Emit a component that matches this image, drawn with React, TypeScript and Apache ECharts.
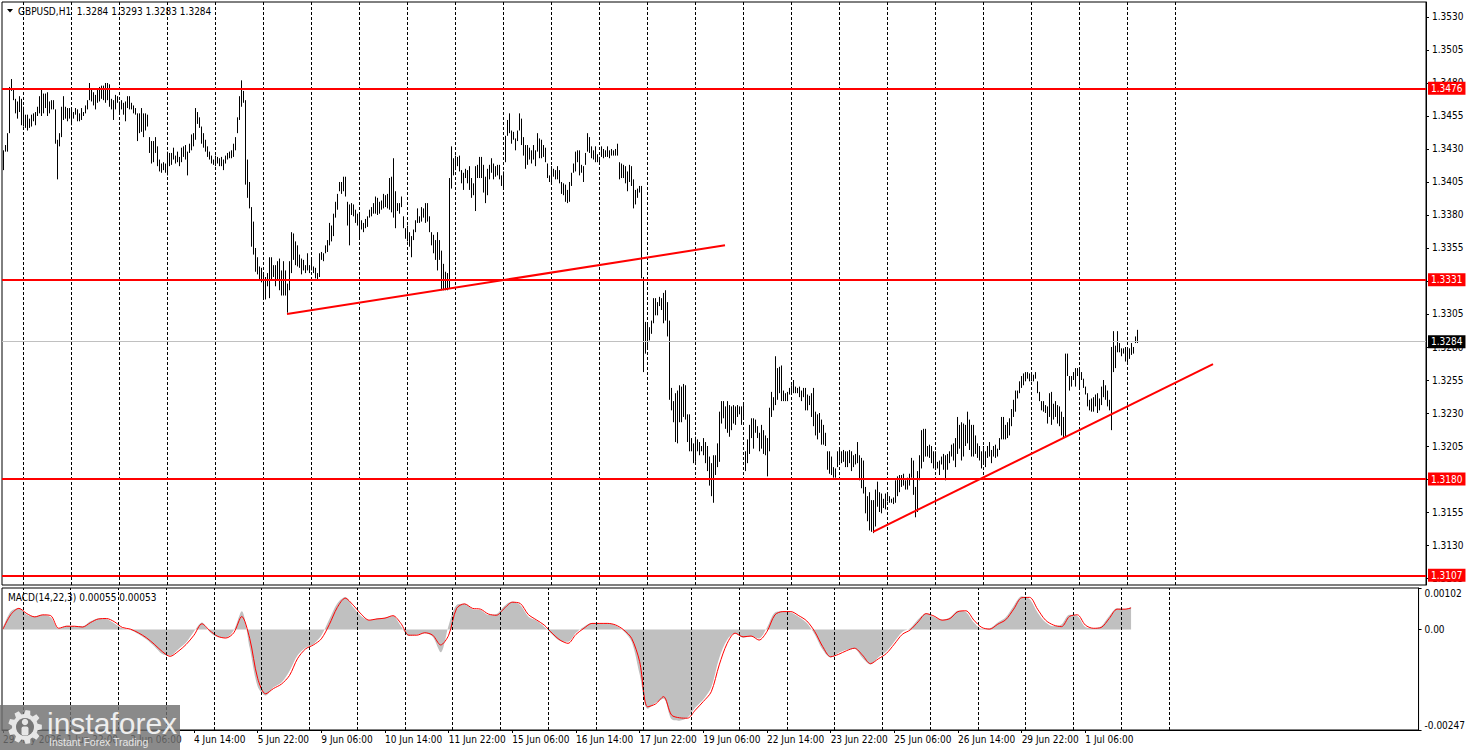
import React, { useEffect, useRef } from "react";
import * as echarts from "echarts";

// ---------- DATA ----------
// H1 bars, GBPUSD. High / low in pips above 1.3000 (value = 1.3000 + pips * 0.0001)
const HIGH_PIPS = [
  429,433,442,477,483,476,468,466,470,468,
  462,456,456,453,456,457,458,462,470,476,
  472,472,473,466,467,467,460,437,442,462,
  470,462,461,461,460,458,461,460,457,461,
  458,463,467,480,476,473,471,475,477,478,
  478,480,480,479,468,467,471,470,466,467,
  465,466,470,470,465,463,461,457,457,461,
  457,457,456,439,436,436,439,432,422,419,
  420,419,428,427,427,431,425,428,424,431,
  432,433,428,434,441,442,461,458,454,447,
  442,437,432,428,425,422,425,424,423,424,
  422,425,427,428,429,434,439,454,470,482,
  474,467,422,405,386,375,355,348,341,340,
  336,333,336,348,348,342,342,345,347,338,
  345,338,328,345,367,366,360,357,350,347,
  346,342,351,342,346,341,340,336,351,352,
  351,357,361,374,372,381,390,396,405,405,
  409,409,390,388,389,388,384,381,380,376,
  374,377,379,384,386,389,394,393,390,391,
  396,395,396,408,409,423,398,389,389,394,
  379,370,372,367,364,369,376,385,379,386,
  385,389,389,379,367,365,361,367,361,353,
  343,337,336,408,432,423,425,424,425,414,
  412,415,414,417,408,404,417,418,424,424,
  418,409,415,418,423,419,417,418,418,410,
  413,440,452,457,444,443,438,444,457,453,
  439,433,433,431,429,433,429,442,438,437,
  433,431,419,410,417,415,414,417,414,405,
  404,403,399,405,412,419,428,429,429,418,
  417,427,442,439,432,429,432,426,424,432,
  430,429,432,429,430,429,430,434,420,419,
  418,417,413,418,417,407,399,400,402,402,
  333,299,298,295,300,317,317,314,318,317,
  321,323,314,300,249,239,245,247,251,250,
  252,251,229,229,211,207,212,210,208,205,
  211,208,205,197,192,198,198,207,231,239,
  239,235,239,236,235,236,235,236,235,235,
  236,201,210,221,226,226,225,220,215,221,
  217,213,211,234,246,242,273,264,265,266,
  247,245,246,249,251,255,250,249,250,247,
  249,249,244,243,245,249,231,229,230,225,
  221,215,201,201,197,189,188,201,202,201,
  202,201,201,202,201,198,199,208,198,196,
  194,174,167,170,164,164,172,178,170,169,
  165,169,170,167,165,166,179,182,183,183,
  184,179,181,184,196,194,174,186,198,217,
  218,218,205,206,205,201,201,193,194,197,
  199,198,199,201,206,207,211,227,221,223,
  222,221,231,225,221,221,213,207,205,201,
  205,201,205,208,202,205,206,203,211,227,
  227,221,223,226,233,240,247,247,254,258,
  260,261,261,260,261,259,261,254,246,239,
  239,236,235,245,246,237,239,236,235,231,
  227,275,275,258,258,261,264,264,263,261,
  256,250,245,240,241,242,244,245,241,250,
  255,251,247,240,280,292,281,292,283,279,
  279,280,279,279,283,280,288,293,
];
const LOW_PIPS = [
  414,428,428,442,474,467,457,453,458,448,
  447,446,444,446,447,451,448,455,457,455,
  457,461,455,457,460,460,434,407,432,439,
  452,453,451,453,448,453,456,451,451,452,
  455,457,460,467,466,463,460,465,466,468,
  467,465,467,462,460,452,460,465,457,460,
  456,451,461,460,460,457,456,436,442,443,
  439,444,447,427,419,420,427,417,413,412,
  414,412,410,417,418,422,419,420,417,420,
  424,422,410,427,429,432,437,449,446,434,
  431,428,424,422,419,418,417,419,417,417,
  414,419,422,423,423,424,429,442,452,462,
  465,403,393,385,356,350,337,335,331,329,
  316,316,326,317,331,333,326,331,323,319,
  319,319,306,323,336,346,342,341,340,335,
  338,336,338,336,338,336,332,330,333,346,
  345,351,352,357,360,364,378,384,398,396,
  398,394,372,357,380,379,374,372,362,369,
  367,370,371,378,379,381,381,380,381,384,
  385,386,385,384,382,378,370,383,381,386,
  370,362,360,356,348,361,367,374,374,375,
  378,374,375,367,357,351,346,338,346,323,
  323,323,323,324,400,410,414,417,413,404,
  399,408,404,399,393,395,383,408,408,408,
  397,389,395,407,412,407,409,410,407,402,
  399,420,440,442,434,437,429,436,444,433,
  425,415,418,422,419,422,417,428,423,423,
  424,420,408,405,404,409,407,407,404,396,
  395,390,389,390,402,412,413,420,410,412,
  405,418,428,427,423,422,420,420,418,424,
  423,424,424,423,425,425,425,425,407,408,
  408,404,398,405,402,385,388,393,397,332,
  261,275,280,285,290,298,304,304,311,308,
  298,300,288,240,232,223,208,207,223,223,
  227,225,208,201,201,192,193,201,198,201,
  198,192,186,175,167,162,183,189,193,222,
  226,218,215,212,217,222,221,227,229,221,
  227,186,192,199,211,203,215,211,201,203,
  199,198,182,201,227,232,236,240,245,239,
  239,239,239,244,245,245,245,245,242,239,
  242,232,232,236,227,220,213,210,215,206,
  206,205,187,184,183,181,181,189,193,192,
  193,189,189,192,186,189,191,192,179,173,
  169,154,148,141,140,139,144,159,155,154,
  158,157,163,162,162,161,162,167,170,174,
  175,172,172,175,181,168,151,155,179,188,
  193,197,197,196,192,188,187,188,183,191,
  187,179,187,192,197,194,189,199,203,194,
  197,205,207,202,197,197,199,196,194,188,
  192,189,196,197,192,197,196,197,202,210,
  210,210,211,213,220,227,231,241,245,249,
  251,254,256,254,254,254,256,245,239,232,
  231,230,222,227,221,225,227,222,220,213,
  211,212,258,247,250,255,250,258,249,255,
  249,244,235,232,231,231,235,230,232,236,
  242,240,235,232,217,261,264,276,276,273,
  275,269,268,271,274,275,283,283,
];

// time axis labels, one every 32 bars
const TIME_LABELS = [
  "29 May 2026", "1 Jun 22:00", "3 Jun 06:00", "4 Jun 14:00", "5 Jun 22:00",
  "9 Jun 06:00", "10 Jun 14:00", "11 Jun 22:00", "15 Jun 06:00", "16 Jun 14:00",
  "17 Jun 22:00", "19 Jun 06:00", "22 Jun 14:00", "23 Jun 22:00", "25 Jun 06:00",
  "26 Jun 14:00", "29 Jun 22:00", "1 Jul 06:00",
];
const LABEL_STEP = 32;
// day separators (bar index of each 00:00)
const SEPARATORS = [10,34,58,82,106,130,154,178,202,226,250,274,298,322,346,370,394,418,442,466,490,514,538,562,586];
const SLOTS = 712; // bar slots visible across the chart width

const PRICE_TICKS = [1.3105,1.3130,1.3155,1.3180,1.3205,1.3230,1.3255,1.3280,1.3305,1.3330,1.3355,1.3380,1.3405,1.3430,1.3455,1.3480,1.3505,1.3530];
const LEVELS = [1.3476, 1.3331, 1.3180, 1.3107];
const LAST_PRICE = 1.3284;
const TREND_LINES = [
  [[142, 1.3305], [361, 1.3357]],
  [[435, 1.3140], [605, 1.3267]],
];

// MACD(14,22,3), sampled every 4 bars, in units of 0.001
const MACD_STEP = 4;
const MACD_MAIN_K = [
  0.05,0.45,0.52,0.36,0.32,0.36,0.30,0.02,0.09,0.08,
  0.08,0.20,0.27,0.26,0.15,0.03,-0.01,-0.11,-0.24,-0.41,
  -0.60,-0.64,-0.49,-0.32,-0.05,0.17,-0.07,-0.19,-0.20,-0.02,
  0.45,-0.45,-1.40,-1.62,-1.42,-1.30,-1.02,-0.64,-0.45,-0.36,
  -0.15,0.25,0.64,0.80,0.55,0.33,0.23,0.27,0.29,0.33,
  0.08,-0.16,-0.13,-0.09,-0.18,-0.56,0.10,0.60,0.63,0.50,
  0.48,0.36,0.38,0.58,0.69,0.60,0.32,0.22,0.07,-0.12,
  -0.28,-0.30,-0.08,0.07,0.16,0.15,0.15,0.10,-0.04,-0.30,
  -1.10,-1.95,-1.80,-1.70,-2.20,-2.24,-2.17,-1.92,-1.72,-1.42,
  -0.70,-0.25,-0.10,-0.20,-0.17,-0.22,0.05,0.42,0.45,0.42,
  0.31,0.16,-0.12,-0.50,-0.69,-0.58,-0.50,-0.48,-0.70,-0.86,
  -0.68,-0.54,-0.30,-0.06,0.03,0.25,0.40,0.31,0.24,0.30,
  0.46,0.43,0.17,0.02,0.03,0.17,0.30,0.58,0.82,0.75,
  0.42,0.18,0.08,0.12,0.36,0.33,0.06,0.03,0.08,0.33,
  0.52,0.50,0.55,
];
const MACD_SIGNAL_K = [
  0.01,0.37,0.52,0.39,0.31,0.36,0.34,0.03,0.08,0.08,
  0.06,0.17,0.26,0.27,0.19,0.05,0.01,-0.08,-0.20,-0.36,
  -0.54,-0.66,-0.54,-0.37,-0.14,0.14,-0.03,-0.17,-0.21,-0.08,
  0.32,-0.22,-1.20,-1.58,-1.45,-1.34,-1.13,-0.72,-0.48,-0.38,
  -0.23,0.12,0.54,0.77,0.60,0.38,0.23,0.26,0.28,0.34,
  0.15,-0.14,-0.14,-0.08,-0.14,-0.38,-0.14,0.52,0.63,0.52,
  0.50,0.38,0.35,0.52,0.67,0.64,0.37,0.24,0.11,-0.09,
  -0.26,-0.34,-0.12,0.03,0.15,0.15,0.15,0.11,-0.01,-0.22,
  -0.79,-1.90,-1.83,-1.65,-2.10,-2.17,-2.18,-1.98,-1.77,-1.53,
  -0.87,-0.34,-0.09,-0.18,-0.16,-0.26,-0.05,0.36,0.44,0.44,
  0.34,0.21,-0.05,-0.42,-0.67,-0.61,-0.52,-0.46,-0.63,-0.84,
  -0.72,-0.59,-0.36,-0.12,-0.01,0.19,0.39,0.33,0.23,0.27,
  0.44,0.46,0.23,0.05,0.01,0.13,0.24,0.50,0.78,0.79,
  0.50,0.23,0.11,0.07,0.32,0.36,0.11,0.03,0.05,0.27,
  0.50,0.50,0.53,
];
const MACD_TICKS = [-0.00247, 0, 0.00102];

const HEADER = "GBPUSD,H1  1.3284 1.3293 1.3283 1.3284";
const MACD_TITLE = "MACD(14,22,3) 0.00055 0.00053";
const BRAND = "instaforex";
const BRAND_SUB = "Instant Forex Trading";

const FONT = "Tahoma, 'DejaVu Sans Condensed', 'Liberation Sans', sans-serif";

function gearPoints(cx: number, cy: number, rOut: number, rIn: number, teeth: number) {
  const pts: number[][] = [];
  const step = (Math.PI * 2) / teeth;
  for (let k = 0; k < teeth; k++) {
    const a = k * step;
    const h = step / 2;
    pts.push([cx + rIn * Math.cos(a - h * 0.7), cy + rIn * Math.sin(a - h * 0.7)]);
    pts.push([cx + rOut * Math.cos(a - h * 0.4), cy + rOut * Math.sin(a - h * 0.4)]);
    pts.push([cx + rOut * Math.cos(a + h * 0.4), cy + rOut * Math.sin(a + h * 0.4)]);
    pts.push([cx + rIn * Math.cos(a + h * 0.7), cy + rIn * Math.sin(a + h * 0.7)]);
  }
  return pts;
}

export default function App() {
  const ref = useRef<HTMLDivElement>(null);
  useEffect(() => {
    const chart = echarts.init(ref.current as HTMLDivElement, null, { renderer: "svg" });
    const cats = Array.from({ length: SLOTS }, (_, i) => String(i));
    const lastIdx = HIGH_PIPS.length - 1;
    const bars = HIGH_PIPS.map((h, i) => [i, 1.3 + h / 10000, 1.3 + LOW_PIPS[i] / 10000]);
    const macdX = (k: number) => Math.min(k * MACD_STEP, lastIdx);
    const macdMain = MACD_MAIN_K.map((v, k) => [macdX(k), v / 1000]);
    const macdSignal = MACD_SIGNAL_K.map((v, k) => [macdX(k), v / 1000]);
    const labelFn = (idx: number) => idx % LABEL_STEP === 0 && idx <= lastIdx;
    const sepLines = SEPARATORS.map((b) => ({ xAxis: b }));
    const axisFont = { color: "#000", fontSize: 10, fontFamily: FONT };
    const boxLabel = (text: string, bg: string) => ({
      show: true, position: "end", distance: 2, formatter: text,
      backgroundColor: bg, color: "#fff", padding: [2, 3, 1, 3], fontSize: 10, fontFamily: FONT,
    });

    const option: any = {
      animation: false,
      backgroundColor: "#fff",
      grid: [
        { left: 2, top: 2, width: 1424, height: 583, show: true, borderColor: "#000", borderWidth: 1, backgroundColor: "#fff" },
        { left: 2, top: 588, width: 1424, height: 142, show: true, borderColor: "#000", borderWidth: 1, backgroundColor: "#fff" },
      ],
      xAxis: [
        {
          type: "category", gridIndex: 0, data: cats, boundaryGap: true,
          axisLine: { show: false }, axisTick: { show: false }, axisLabel: { show: false }, splitLine: { show: false },
        },
        {
          type: "category", gridIndex: 1, data: cats, boundaryGap: true,
          axisLine: { show: true, onZero: false, lineStyle: { color: "#000", width: 1 } },
          axisTick: { show: true, alignWithLabel: true, interval: labelFn, length: 3, lineStyle: { color: "#000" } },
          axisLabel: {
            interval: labelFn,
            formatter: (_v: string, idx: number) => TIME_LABELS[idx / LABEL_STEP] ?? "",
            align: "left", margin: 4, ...axisFont,
          },
          splitLine: { show: false },
        },
      ],
      yAxis: [
        {
          type: "value", gridIndex: 0, position: "right", min: 1.30997, max: 1.354136,
          splitLine: { show: false },
          axisLine: { show: true, lineStyle: { color: "#000" } },
          axisTick: { show: true, length: 3, customValues: PRICE_TICKS, lineStyle: { color: "#000" } },
          axisLabel: { customValues: PRICE_TICKS, formatter: (v: number) => v.toFixed(4), margin: 6, ...axisFont },
        },
        {
          type: "value", gridIndex: 1, position: "right", min: -0.00247, max: 0.00102,
          splitLine: { show: false },
          axisLine: { show: true, lineStyle: { color: "#000" } },
          axisTick: { show: true, length: 3, customValues: MACD_TICKS, lineStyle: { color: "#000" } },
          axisLabel: {
            customValues: MACD_TICKS,
            formatter: (v: number) => (Math.abs(v) < 1e-9 ? "0.00" : v.toFixed(5)),
            verticalAlignMinLabel: "bottom", verticalAlignMaxLabel: "top",
            margin: 6, ...axisFont,
          },
        },
      ],
      series: [
        {
          type: "line", xAxisIndex: 0, yAxisIndex: 0, data: [], z: 1, silent: true,
          markLine: {
            silent: true, symbol: ["none", "none"], label: { show: false },
            lineStyle: { color: "#000", type: [3, 2], width: 1 },
            data: sepLines,
          },
        },
        {
          type: "custom", xAxisIndex: 0, yAxisIndex: 0, data: bars, z: 2, silent: true,
          encode: { x: 0, y: [1, 2] },
          renderItem: (_p: any, api: any) => {
            const a = api.coord([api.value(0), api.value(1)]);
            const b = api.coord([api.value(0), api.value(2)]);
            const px = Math.round(a[0]) + 0.5;
            return {
              type: "line",
              shape: { x1: px, y1: a[1], x2: px, y2: Math.max(b[1], a[1] + 1) },
              style: { stroke: "#000", lineWidth: 1 },
            };
          },
        },
        {
          type: "line", xAxisIndex: 0, yAxisIndex: 0, data: [], z: 3, silent: true,
          markLine: {
            silent: true, symbol: ["none", "none"], precision: 6,
            data: [
              {
                yAxis: LAST_PRICE,
                lineStyle: { color: "#c0c0c0", width: 1, type: "solid" },
                label: boxLabel(LAST_PRICE.toFixed(4), "#000"),
              },
              ...LEVELS.map((v) => ({
                yAxis: v,
                lineStyle: { color: "#ff0000", width: 2, type: "solid" },
                label: boxLabel(v.toFixed(4), "#ff0000"),
              })),
              ...TREND_LINES.map(([p1, p2]) => [
                { coord: p1, lineStyle: { color: "#ff0000", width: 2, type: "solid" }, label: { show: false } },
                { coord: p2 },
              ]),
            ],
          },
        },
        {
          type: "line", xAxisIndex: 1, yAxisIndex: 1, data: macdMain, z: 2, silent: true,
          symbol: "none", smooth: 0.3,
          lineStyle: { width: 0, opacity: 0 },
          areaStyle: { color: "#c0c0c0", opacity: 1, origin: "auto" },
          markLine: {
            silent: true, symbol: ["none", "none"], label: { show: false },
            lineStyle: { color: "#000", type: [3, 2], width: 1 },
            data: sepLines,
          },
        },
        {
          type: "line", xAxisIndex: 1, yAxisIndex: 1, data: macdSignal, z: 3, silent: true,
          symbol: "none", smooth: 0.3,
          lineStyle: { color: "#ff0000", width: 1 },
        },
      ],
      graphic: [
        { type: "polygon", z: 100, shape: { points: [[7, 9], [13, 9], [10, 12.5]] }, style: { fill: "#000" } },
        { type: "text", z: 100, x: 18, y: 11, style: { text: HEADER, fill: "#000", font: `10px ${FONT}`, verticalAlign: "middle" } },
        { type: "text", z: 100, x: 8, y: 597, style: { text: MACD_TITLE, fill: "#000", font: `10px ${FONT}`, verticalAlign: "middle" } },
        { type: "rect", z: 100, shape: { x: 0, y: 705, width: 180, height: 45 }, style: { fill: "rgba(112,112,112,0.82)" } },
        { type: "polygon", z: 101, shape: { points: gearPoints(25, 727, 17, 13, 9) }, style: { fill: "#e6e6e6" } },
        { type: "circle", z: 102, shape: { cx: 25, cy: 727, r: 9 }, style: { fill: "#777" } },
        { type: "circle", z: 103, shape: { cx: 25, cy: 722, r: 3.2 }, style: { fill: "#e6e6e6" } },
        { type: "rect", z: 103, shape: { x: 21.5, y: 726.5, width: 7, height: 9, r: 2 }, style: { fill: "#e6e6e6" } },
        { type: "text", z: 101, x: 47, y: 723, style: { text: BRAND, fill: "#eeeeee", font: "30px 'Liberation Sans', Arial, sans-serif", verticalAlign: "middle" } },
        { type: "text", z: 101, x: 49, y: 742, style: { text: BRAND_SUB, fill: "#e6e6e6", font: "10.5px 'Liberation Sans', Arial, sans-serif", verticalAlign: "middle" } },
      ],
    };
    chart.setOption(option);
    return () => chart.dispose();
  }, []);
  return (
    <div
      ref={ref}
      style={{ position: "fixed", left: 0, top: 0, width: 1468, height: 750, background: "#fff" }}
    />
  );
}
